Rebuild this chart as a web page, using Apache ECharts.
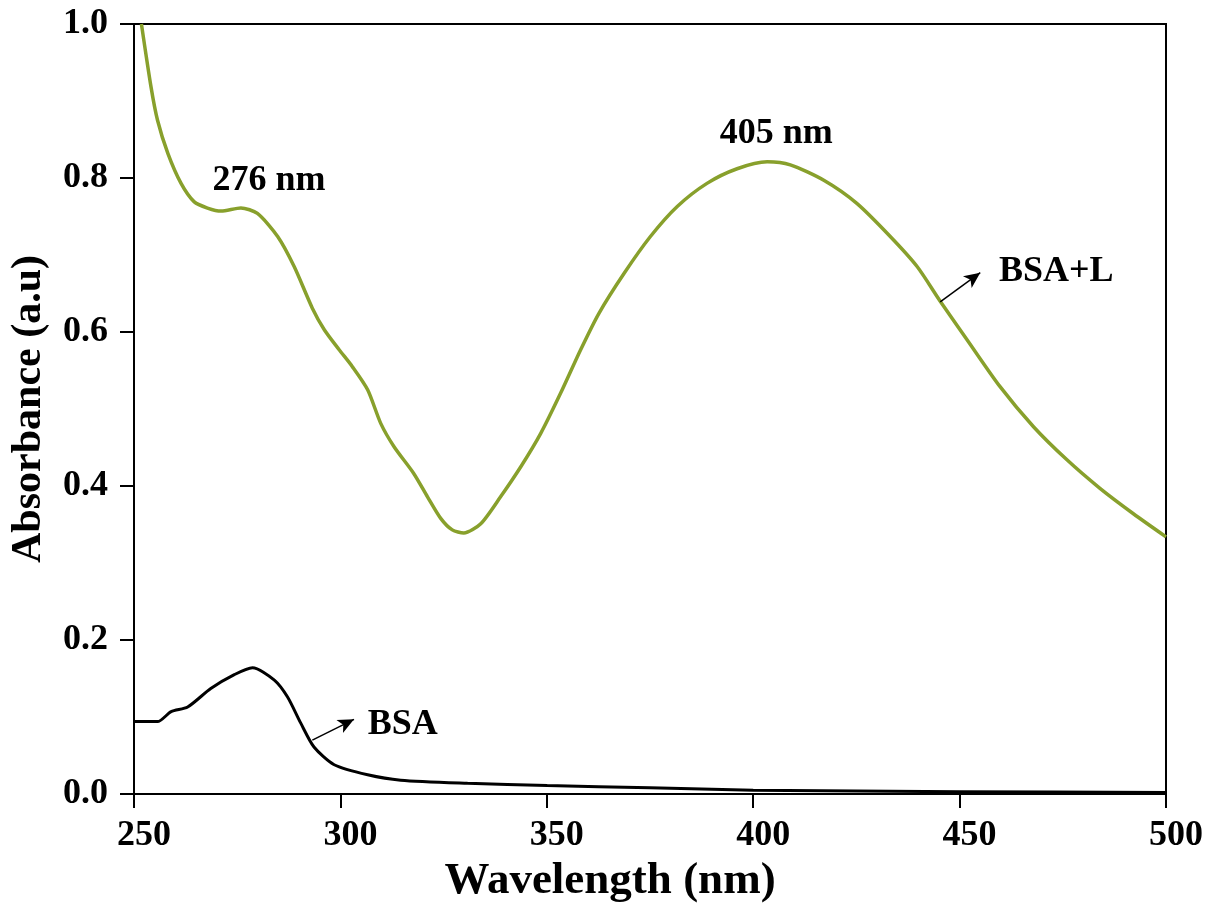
<!DOCTYPE html>
<html><head><meta charset="utf-8">
<script src="https://cdn.jsdelivr.net/npm/echarts@6/dist/echarts.min.js"></script>
<style>html,body{margin:0;padding:0;background:#fff}#c{width:1217px;height:912px}</style>
</head><body><div id="c"></div>
<script>
const bslWave = [251.8,254.1,255.7,258.2,261.4,264.6,267.8,271.1,275.9,279.9,284.8,288.8,293.2,296.1,299.7,302.9,306.6,309.8,313.0,317.8,321.1,324.3,327.1,329.9,334.0,338.8,343.7,348.5,353.3,358.2,362.6,368.7,375.1,381.6,388.8,396.1,403.4,409.0,417.1,425.1,433.2,439.7,445.3,451.8,459.8,467.9,476.0,484.0,492.1,500];
const bslAbs  = [1.0,0.919,0.875,0.832,0.793,0.769,0.761,0.757,0.761,0.754,0.724,0.685,0.631,0.603,0.577,0.555,0.525,0.481,0.451,0.416,0.386,0.358,0.343,0.339,0.351,0.386,0.425,0.468,0.520,0.577,0.624,0.676,0.724,0.763,0.793,0.812,0.821,0.817,0.797,0.767,0.724,0.685,0.640,0.590,0.529,0.477,0.434,0.397,0.364,0.334];
const bsaWave = [250,255.7,259,263,268.6,274.3,278.7,284,287.2,290.4,293.6,298.5,306.6,314.6,330.8,350.1,375,400,450,500];
const bsaAbs  = [0.094,0.094,0.107,0.113,0.137,0.155,0.164,0.148,0.126,0.092,0.061,0.038,0.025,0.018,0.014,0.011,0.008,0.005,0.003,0.002];
const xTicks = [250,300,350,400,450,500];
const yTicks = [0.0,0.2,0.4,0.6,0.8,1.0];
const peakLabels = [{text:'276 nm', x:282.7, y:0.797},{text:'405 nm', x:405.6, y:0.858}];
const seriesLabels = [{text:'BSA+L', x:473.4, y:0.678, from:[445.3,0.639], to:[455.0,0.677]},{text:'BSA', x:315.1, y:0.09, from:[293.2,0.070], to:[303.3,0.097]}];

const font = 'Liberation Serif';
const chart = echarts.init(document.getElementById('c'));
const txtStyle = {fontFamily:font, fontWeight:'bold', fontSize:36, color:'#000'};
const arrow = {silent:true, symbol:['none','arrow'], symbolSize:[11,16], label:{show:false},
  lineStyle:{color:'#000', width:1.5, type:'solid'}, emphasis:{disabled:true}};
chart.setOption({
  animation:false,
  grid:{left:133, top:24, right:51, bottom:118, show:true, borderColor:'#000', borderWidth:2, backgroundColor:'transparent'},
  xAxis:{type:'value', min:250, max:500, interval:50,
    name:'Wavelength (nm)', nameLocation:'middle', nameGap:64,
    nameTextStyle:{fontFamily:font, fontWeight:'bold', fontSize:45, color:'#000', padding:[0,80,0,0]},
    axisLine:{lineStyle:{color:'#000', width:2}},
    axisTick:{show:true, inside:false, length:14, lineStyle:{color:'#000', width:2}},
    axisLabel:{fontFamily:font, fontWeight:'bold', fontSize:36, color:'#000', margin:24, padding:[0,0,0,20], formatter:v=>xTicks.includes(v)?String(v):''},
    splitLine:{show:false}},
  yAxis:{type:'value', min:0, max:1, interval:0.2,
    name:'Absorbance (a.u)', nameLocation:'middle', nameGap:84,
    nameTextStyle:{fontFamily:font, fontWeight:'bold', fontSize:42, color:'#000'},
    axisLine:{show:true, lineStyle:{color:'#000', width:2}},
    axisTick:{show:true, inside:false, length:14, lineStyle:{color:'#000', width:2}},
    axisLabel:{fontFamily:font, fontWeight:'bold', fontSize:36, color:'#000', margin:26, formatter:v=>v.toFixed(1)},
    splitLine:{show:false}},
  series:[
    {type:'line', name:'BSA+L', data:bslWave.map((w,i)=>[w,bslAbs[i]]), showSymbol:false, smooth:0.25,
     lineStyle:{color:'#88a02c', width:3.5}, clip:true,
     markPoint:{symbol:'circle', symbolSize:0, silent:true,
       label:{show:true, position:'inside', ...txtStyle, formatter:p=>p.name},
       data:peakLabels.concat(seriesLabels.slice(0,1)).map(d=>({name:d.text, coord:[d.x,d.y]}))},
     markLine:{...arrow, data:[[{coord:seriesLabels[0].from},{coord:seriesLabels[0].to}]]}},
    {type:'line', name:'BSA', data:bsaWave.map((w,i)=>[w,bsaAbs[i]]), showSymbol:false, smooth:0.25,
     lineStyle:{color:'#000', width:3},
     markPoint:{symbol:'circle', symbolSize:0, silent:true,
       label:{show:true, position:'inside', ...txtStyle, formatter:p=>p.name},
       data:[{name:seriesLabels[1].text, coord:[seriesLabels[1].x, seriesLabels[1].y]}]},
     markLine:{...arrow, data:[[{coord:seriesLabels[1].from},{coord:seriesLabels[1].to}]]}}
  ]
});
</script></body></html>
